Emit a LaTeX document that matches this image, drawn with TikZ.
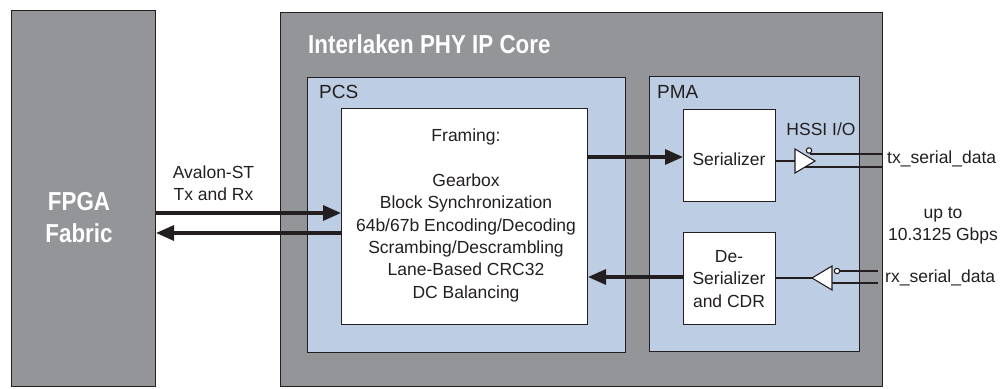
\documentclass[tikz,border=0pt]{standalone}
\usepackage{fontspec}
\setmainfont{Liberation Sans}
\newfontfamily\headfont[FakeStretch=0.86]{Liberation Sans Bold}
\usetikzlibrary{arrows.meta}

\definecolor{coregrey}{RGB}{147,149,152}
\definecolor{pcsblue}{RGB}{189,205,227}
\definecolor{ink}{RGB}{35,31,32}

\tikzset{
  block/.style={draw=ink, line width=1pt, inner sep=0pt, anchor=north west},
  greyblock/.style={block, fill=coregrey},
  blueblock/.style={block, fill=pcsblue},
  whiteblock/.style={block, fill=white},
  body/.style={text=ink, inner sep=0pt, font=\fontsize{17.5}{22.3}\selectfont, align=center},
  sublabel/.style={text=ink, inner sep=0pt, font=\fontsize{19}{22}\selectfont, anchor=base west},
  headlabel/.style={text=white, inner sep=0pt, align=center, font=\headfont\fontsize{26}{32}\selectfont},
  bus/.style={draw=ink, line width=3.2pt, -{Triangle[length=18pt,width=15pt]}},
  wire/.style={draw=ink, line width=1.1pt},
  buffer/.style={draw=ink, line width=1.1pt, fill=white, line join=miter},
}

\begin{document}
\begin{tikzpicture}[x=1pt, y=-1pt]
\useasboundingbox (0,0) rectangle (1003,388);

% FPGA fabric
\node[greyblock, minimum width=144, minimum height=376] (fpga) at (11,10) {};
\node[headlabel] (fpgatext) at (79,218) {FPGA\\Fabric};

% IP core and its sub-blocks
\node[greyblock, minimum width=602, minimum height=374] (core) at (280,12) {};
\node[headlabel, anchor=base west] (coretitle) at (308,53) {Interlaken PHY IP Core};

\node[blueblock, minimum width=318, minimum height=275] (pcs) at (307,77) {};
\node[sublabel] (pcslabel) at (319,98) {PCS};
\node[whiteblock, minimum width=246, minimum height=216] (framing) at (341,108) {};
\node[body] (framingtext) at (466,215.5) {Framing:\\ \mbox{}\\ Gearbox\\ Block Synchronization\\ 64b/67b Encoding/Decoding\\ Scrambing/Descrambling\\ Lane-Based CRC32\\ DC Balancing};

\node[blueblock, minimum width=210, minimum height=275] (pma) at (649,76) {};
\node[sublabel] (pmalabel) at (657,98) {PMA};
\node[whiteblock, minimum width=92, minimum height=92] (ser) at (683,109) {};
\node[body] (sertext) at (729,159) {Serializer};
\node[whiteblock, minimum width=92, minimum height=92] (des) at (683,232) {};
\node[body] (destext) at (729,279) {De-\\Serializer\\and CDR};

% Avalon-ST interface
\node[body] (avalon) at (213.5,183) {Avalon-ST\\Tx and Rx};
\draw[bus] (fpga.east |- 0,213) -- (framing.west |- 0,213);
\draw[bus] (framing.west |- 0,233) -- (fpga.east |- 0,233);

% PCS <-> PMA data paths
\draw[bus] (framing.east |- 0,157) -- (ser.west |- 0,157);
\draw[bus] (des.west |- 0,277) -- (framing.east |- 0,277);

% transmit buffer
\coordinate (txin) at (795,161);
\draw[wire] (ser.east |- txin) -- (txin);
\draw[wire] (810,154) -- (core.east |- 0,154);
\draw[wire] (805,167) -- (core.east |- 0,167);
\draw[buffer] (795,149) -- (815,161) -- (795,173) -- cycle;
\draw[buffer] (809,150.5) circle (2.7);
\node[body, anchor=base] (hssi) at (821,135) {HSSI I/O};
\node[body, anchor=base west] (txlabel) at (887,163) {tx\_serial\_data};

% receive buffer
\coordinate (rxout) at (812,278);
\coordinate (rxend) at (878,0);
\draw[wire] (rxout) -- (des.east |- rxout);
\draw[wire] (839.7,271) -- (rxend |- 0,271);
\draw[wire] (832,283) -- (rxend |- 0,283);
\draw[buffer] (812,278) -- (832,266) -- (832,290) -- cycle;
\draw[buffer] (837,271) circle (2.7);
\node[body, anchor=base west] (rxlabel) at (885,282) {rx\_serial\_data};

\node[body] (rate) at (943,226) {up to\\10.3125 Gbps};
\end{tikzpicture}
\end{document}
